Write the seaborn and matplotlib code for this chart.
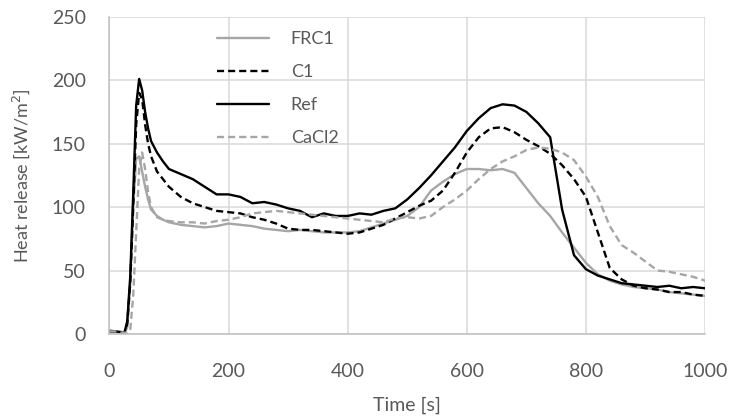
import numpy as np
import pandas as pd
import matplotlib
matplotlib.use("Agg")
import matplotlib.pyplot as plt
import seaborn as sns

time = [0, 10, 20, 25, 30, 35, 40, 45, 50, 55, 60, 65, 70, 80, 90, 100,
        120, 140, 160, 180, 200, 220, 240, 260, 280, 300, 320, 340, 360, 380,
        400, 420, 440, 460, 480, 500, 520, 540, 560, 580, 600, 620, 640, 660,
        680, 700, 720, 740, 760, 780, 800, 820, 840, 860, 880, 900, 920, 940,
        960, 980, 1000]

frc1 = [3, 2, 1, 0.5, 5, 40, 100, 138, 140, 128, 116, 106, 98, 93, 90, 88,
        86, 85, 84, 85, 87, 86, 85, 83, 82, 81, 82, 81, 80, 80,
        80, 81, 84, 87, 90, 93, 100, 113, 120, 126, 130, 130, 129, 130,
        127, 115, 103, 93, 80, 68, 56, 47, 42, 39, 37, 36, 35, 33,
        32, 31, 30]

c1 = [2, 2, 1, 0.5, 8, 40, 100, 165, 190, 185, 165, 150, 140, 128, 122, 116,
      108, 103, 100, 97, 96, 95, 92, 90, 87, 83, 82, 82, 81, 80,
      79, 80, 83, 86, 91, 96, 101, 105, 113, 127, 143, 155, 162, 163,
      159, 153, 148, 142, 133, 122, 108, 80, 52, 43, 38, 36, 35, 33,
      33, 31, 30]

ref = [2, 2, 1.5, 0.5, 10, 45, 110, 180, 201, 192, 175, 162, 152, 143, 136, 130,
       126, 122, 116, 110, 110, 108, 103, 104, 102, 99, 97, 92, 95, 93,
       93, 95, 94, 97, 99, 106, 115, 125, 136, 147, 160, 170, 178, 181,
       180, 175, 166, 155, 98, 62, 51, 46, 43, 40, 39, 38, 37, 38,
       36, 37, 36]

cacl2 = [2, 2, 1, 1, 1, 3, 30, 80, 130, 143, 130, 112, 100, 92, 90, 89,
         88, 88, 87, 89, 90, 92, 95, 96, 97, 96, 95, 94, 93, 92,
         91, 90, 89, 88, 91, 92, 91, 93, 100, 106, 113, 122, 130, 136,
         140, 145, 147, 146, 143, 137, 124, 108, 85, 70, 64, 57, 50, 49,
         47, 45, 42]

series = ["FRC1", "C1", "Ref", "CaCl2"]
data = {"FRC1": frc1, "C1": c1, "Ref": ref, "CaCl2": cacl2}
colors = {"FRC1": "#a6a6a6", "C1": "black", "Ref": "black", "CaCl2": "#a6a6a6"}
dashed = {"FRC1": False, "C1": True, "Ref": False, "CaCl2": True}

df = pd.DataFrame({"time": time, **data})

sns.set_theme(style="white")
plt.rcParams["font.family"] = ["Lato", "DejaVu Sans"]

fig = plt.figure(figsize=(7.36, 4.19), dpi=100)
ax = fig.add_axes([0.1486, 0.203, 0.8094, 0.757])

for name in series:
    sns.lineplot(data=df, x="time", y=name, ax=ax, color=colors[name],
                 linewidth=1.7, label=name)
    line = ax.get_lines()[-1]
    if dashed[name]:
        line.set_dashes([3, 1.7])

ax.set_xlim(0, 1000)
ax.set_ylim(0, 250)
ax.set_xticks(range(0, 1001, 200))
ax.set_yticks(range(0, 251, 50))
ax.grid(True, color="#d9d9d9", linewidth=1.1)
ax.set_axisbelow(True)
for s in ["top", "right"]:
    ax.spines[s].set_visible(False)
for s in ["left", "bottom"]:
    ax.spines[s].set_color("#bfbfbf")
    ax.spines[s].set_linewidth(1.1)
ax.tick_params(axis="both", length=0, labelsize=14, colors="#595959")
ax.tick_params(axis="x", pad=21)
ax.tick_params(axis="y", pad=17)

ax.set_xlabel("Time [s]", fontsize=14, color="#595959", labelpad=12)
ax.set_ylabel("Heat release [kW/m$^2$]", fontsize=13, color="#595959", labelpad=14)

leg = ax.legend(loc="upper left", bbox_to_anchor=(0.18, 0.955), frameon=False,
                fontsize=13, handlelength=2.9, handletextpad=1.2,
                labelspacing=0.95, borderpad=0, borderaxespad=0)
for t in leg.get_texts():
    t.set_color("#595959")

fig.savefig("out.png", dpi=100)
